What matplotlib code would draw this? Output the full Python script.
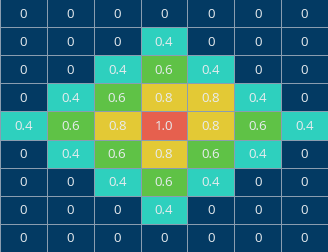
import matplotlib
matplotlib.use("Agg")
import matplotlib.pyplot as plt
import numpy as np
from matplotlib.colors import ListedColormap, BoundaryNorm

values = [
    [0, 0, 0, 0, 0, 0, 0],
    [0, 0, 0, 0.4, 0, 0, 0],
    [0, 0, 0.4, 0.6, 0.4, 0, 0],
    [0, 0.4, 0.6, 0.8, 0.8, 0.4, 0],
    [0.4, 0.6, 0.8, 1.0, 0.8, 0.6, 0.4],
    [0, 0.4, 0.6, 0.8, 0.6, 0.4, 0],
    [0, 0, 0.4, 0.6, 0.4, 0, 0],
    [0, 0, 0, 0.4, 0, 0, 0],
    [0, 0, 0, 0, 0, 0, 0],
]
level_colors = ["#033a63", "#2ed0be", "#5fc246", "#e3c935", "#e6604e"]
bounds = [-0.1, 0.2, 0.5, 0.7, 0.9, 1.1]

data = np.array(values)
fig = plt.figure(figsize=(3.28, 2.53), dpi=100)
ax = fig.add_axes([0, 0, 1, 1])
cmap = ListedColormap(level_colors)
norm = BoundaryNorm(bounds, cmap.N)
nr, nc = data.shape
ax.pcolormesh(np.arange(nc + 1), np.arange(nr + 1), data, cmap=cmap, norm=norm,
              edgecolor="#8a9db0", linewidth=0.5)
ax.set_xlim(0, nc)
ax.set_ylim(nr, 0)
for i in range(nr):
    for j in range(nc):
        v = data[i, j]
        txt = "0" if v == 0 else f"{v:.1f}"
        ax.text(j + 0.5, i + 0.5, txt, ha="center", va="center",
                color="#e8ecef", fontsize=9.5, family="Open Sans")
ax.axis("off")
fig.savefig("out.png", dpi=100)
